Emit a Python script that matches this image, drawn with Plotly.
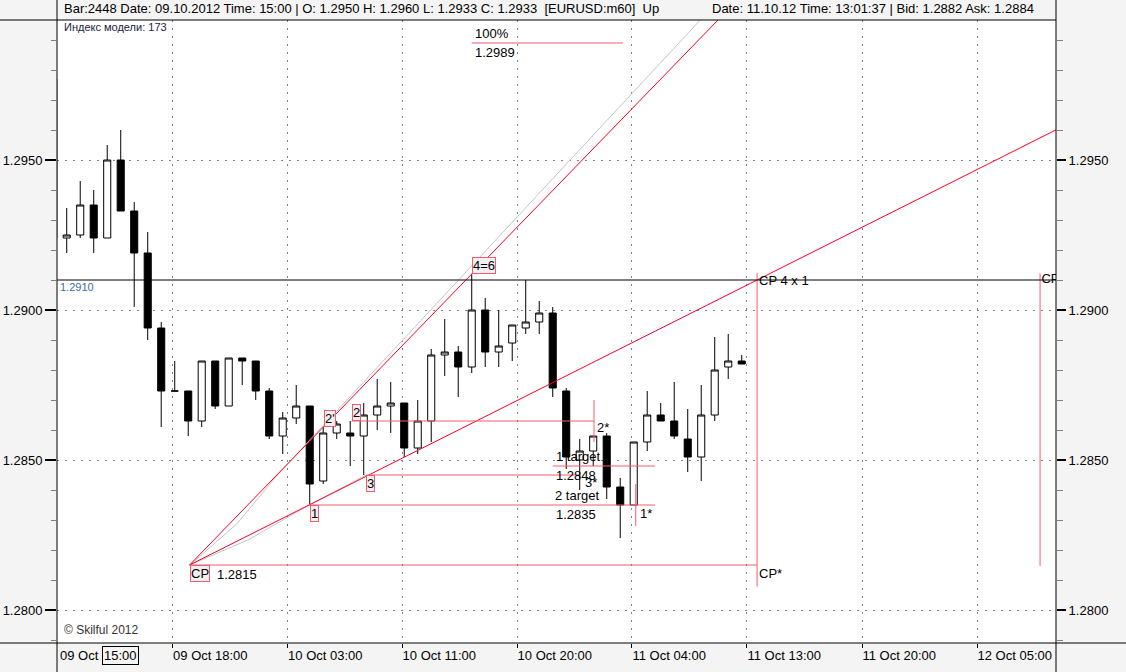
import plotly.graph_objects as go

# ---------------- data ----------------
bars = list(range(-1, 51))  # hourly bars, 0 = 09 Oct 11:00
opens = [1.2977, 1.2924, 1.2925, 1.2935, 1.2924, 1.2950, 1.2933, 1.2919, 1.2894, 1.2873,
         1.2873, 1.2863, 1.2883, 1.2868, 1.2884, 1.2883, 1.2873, 1.2858, 1.2864, 1.2868,
         1.2843, 1.2859, 1.2859, 1.2858, 1.2865, 1.2868, 1.2869, 1.2854, 1.2863, 1.2885,
         1.2886, 1.2881, 1.2900, 1.2886, 1.2889, 1.2894, 1.2896, 1.2899, 1.2873, 1.2850,
         1.2853, 1.2858, 1.2841, 1.2835, 1.2856, 1.2865, 1.2863, 1.2857, 1.2851, 1.2865,
         1.2881, 1.2883]
highs = [1.2980, 1.2934, 1.2943, 1.2940, 1.2955, 1.2960, 1.2936, 1.2926, 1.2896, 1.2883,
         1.2873, 1.2883, 1.2883, 1.2884, 1.2884, 1.2883, 1.2874, 1.2866, 1.2875, 1.2868,
         1.2861, 1.2863, 1.2863, 1.2869, 1.2877, 1.2876, 1.2869, 1.2870, 1.2887, 1.2897,
         1.2888, 1.2912, 1.2904, 1.2900, 1.2895, 1.2910, 1.2903, 1.2901, 1.2874, 1.2857,
         1.2858, 1.2859, 1.2844, 1.2856, 1.2873, 1.2869, 1.2876, 1.2867, 1.2875, 1.2891,
         1.2892, 1.2885]
lows = [1.2922, 1.2919, 1.2924, 1.2919, 1.2924, 1.2933, 1.2901, 1.2890, 1.2861, 1.2873,
        1.2858, 1.2861, 1.2867, 1.2868, 1.2875, 1.2870, 1.2857, 1.2852, 1.2862, 1.2835,
        1.2842, 1.2857, 1.2848, 1.2845, 1.2860, 1.2859, 1.2851, 1.2852, 1.2856, 1.2878,
        1.2871, 1.2879, 1.2881, 1.2881, 1.2883, 1.2892, 1.2892, 1.2871, 1.2847, 1.2840,
        1.2848, 1.2837, 1.2824, 1.2835, 1.2853, 1.2863, 1.2857, 1.2846, 1.2843, 1.2863,
        1.2877, 1.2882]
closes = [1.2924, 1.2925, 1.2935, 1.2924, 1.2950, 1.2933, 1.2919, 1.2894, 1.2873, 1.2873,
          1.2863, 1.2883, 1.2868, 1.2884, 1.2883, 1.2873, 1.2858, 1.2864, 1.2868, 1.2842,
          1.2859, 1.2862, 1.2858, 1.2865, 1.2868, 1.2869, 1.2854, 1.2863, 1.2885, 1.2886,
          1.2881, 1.2900, 1.2886, 1.2888, 1.2895, 1.2896, 1.2899, 1.2874, 1.2851, 1.2853,
          1.2858, 1.2841, 1.2835, 1.2856, 1.2865, 1.2863, 1.2858, 1.2851, 1.2865, 1.2880,
          1.2883, 1.2882]

x_tick_pos = [7.84, 16.36, 24.84, 33.36, 41.87, 50.39, 58.91, 67.43]
x_tick_text = ["09 Oct 18:00", "10 Oct 03:00", "10 Oct 11:00", "10 Oct 20:00",
               "11 Oct 04:00", "11 Oct 13:00", "11 Oct 20:00", "12 Oct 05:00"]
y_tick_vals = [1.2800, 1.2850, 1.2900, 1.2950]

# model points (bar, price)
cp = (9.1, 1.2815)
p1 = (17.95, 1.2835)
p2 = (21.1, 1.2863)
p2b = (19.08, 1.2861)
p3 = (22.2, 1.2845)
p46 = (30.0, 1.2912)
level_cp = 1.2910
target_100 = 1.2989
target_1 = 1.2848
target_2 = 1.2835
star2 = (39.06, 1.2870, 1.2856)
star1 = (42.15, 1.2842, 1.2828)
star3 = (38.25, 1.28425)
cp_right = (72.1, 1.29122, 1.28147)
gray_steep = [(9.13, 1.2815), (12.6, 1.28287), (15.8, 1.2846), (47.04, 1.29972)]
gray_shallow = [(9.1, 1.2815), (13.5, 1.28235), (17.95, 1.2835), (22.2, 1.2845)]

X_MIN, X_MAX = -0.72, 73.28
Y_MIN, Y_MAX = 1.2789, 1.299667

RED = "#ff0022"
PINK = "#f25c70"
GRAY = "#c4c4c4"
FONT = "Liberation Sans, Arial, sans-serif"

fig = go.Figure()

fig.add_trace(go.Candlestick(
    x=bars, open=opens, high=highs, low=lows, close=closes,
    increasing=dict(line=dict(color="black", width=1), fillcolor="white"),
    decreasing=dict(line=dict(color="black", width=1), fillcolor="black"),
    whiskerwidth=0, showlegend=False, hoverinfo="skip"))

def line(xs, ys, color, width=1):
    fig.add_trace(go.Scatter(x=xs, y=ys, mode="lines", line=dict(color=color, width=width),
                             showlegend=False, hoverinfo="skip"))

# gray helper curves
line([p[0] for p in gray_steep], [p[1] for p in gray_steep], GRAY)
line([p[0] for p in gray_shallow], [p[1] for p in gray_shallow], GRAY)

# shallow (1x1) line through CP and point 1
s1 = (p1[1] - cp[1]) / (p1[0] - cp[0])
line([cp[0], X_MAX], [cp[1], cp[1] + s1 * (X_MAX - cp[0])], RED)
# steep line through CP and 4=6
s4 = (p46[1] - cp[1]) / (p46[0] - cp[0])
x_top = cp[0] + (Y_MAX + 0.001 - cp[1]) / s4
line([cp[0], x_top], [cp[1], Y_MAX + 0.001], RED)

# intersection of shallow line with level
x_int = cp[0] + (level_cp - cp[1]) / s1

# pink horizontal levels
line([cp[0], x_int], [cp[1], cp[1]], PINK)
line([p1[0], 43.58], [target_2, target_2], PINK)
line([p2[0], star2[0]], [p2[1], p2[1]], PINK)
line([p3[0], 38.07], [p3[1], p3[1]], PINK)
line([36.0, 43.58], [target_1, target_1], PINK)
line([p46[0], 41.2], [target_100, target_100], PINK)
# pink verticals
line([x_int, x_int], [1.29123, 1.28078], PINK)
line([cp_right[0], cp_right[0]], [cp_right[1], cp_right[2]], PINK)
line([star2[0], star2[0]], [star2[1], star2[2]], PINK)
line([star1[0], star1[0]], [star1[1], star1[2]], PINK)

# clipped "CP" at right edge
fig.add_trace(go.Scatter(x=[cp_right[0] + 0.1], y=[level_cp], mode="text", text=["CP"],
                         textposition="middle right", cliponaxis=True,
                         textfont=dict(family=FONT, size=13, color="black"),
                         showlegend=False, hoverinfo="skip"))

# dummy trace for right axis
fig.add_trace(go.Scatter(x=[bars[0]], y=[closes[0]], yaxis="y2", mode="markers",
                         marker=dict(opacity=0), showlegend=False, hoverinfo="skip"))

shapes = []
shapes.append(dict(type="line", xref="paper", yref="y", x0=0, x1=1, y0=level_cp, y1=level_cp,
                   line=dict(color="black", width=1)))
shapes.append(dict(type="line", xref="paper", yref="paper", x0=0, x1=0, y0=-0.1, y1=1.1,
                   line=dict(color="black", width=1)))
shapes.append(dict(type="line", xref="paper", yref="paper", x0=1, x1=1, y0=-0.1, y1=1.1,
                   line=dict(color="black", width=1)))
shapes.append(dict(type="line", xref="paper", yref="paper", x0=-0.06, x1=1, y0=1, y1=1,
                   line=dict(color="black", width=1)))
shapes.append(dict(type="line", xref="paper", yref="paper", x0=-0.06, x1=1.08, y0=0, y1=0,
                   line=dict(color="black", width=1)))

ann = []
def box(text, x, y, yanchor):
    ann.append(dict(x=x, y=y, xref="x", yref="y", text=text, showarrow=False,
                    xanchor="left", yanchor=yanchor, bgcolor="#f0f0f0",
                    bordercolor=PINK, borderwidth=1, borderpad=0,
                    font=dict(family=FONT, size=13, color="black")))

def txt(text, x, y, yanchor="middle", color="black", size=13, xref="x", yref="y", xanchor="left"):
    ann.append(dict(x=x, y=y, xref=xref, yref=yref, text=text, showarrow=False,
                    xanchor=xanchor, yanchor=yanchor,
                    font=dict(family=FONT, size=size, color=color)))

box("CP", cp[0], cp[1], "top")
txt("1.2815", 10.98, 1.28117)
box("1", p1[0] + 0.1, p1[1], "top")
box("2'", p2b[0], p2b[1], "bottom")
box("2", p2[0], p2[1], "bottom")
box("3", p3[0], p3[1], "top")
box("4=6", p46[0], p46[1], "bottom")
txt("100%", 30.1, target_100, "bottom")
txt("1.2989", 30.1, target_100, "top")
txt("1 target", 36.1, target_1, "bottom")
txt("1.2848", 36.1, target_1, "top")
txt("2 target", 36.0, target_2, "bottom")
txt("1.2835", 36.1, target_2, "top")
txt("3*", star3[0], star3[1])
txt("2*", 39.1, 1.28607)
txt("1*", 42.3, 1.28323)
txt("CP*", x_int, 1.28123)
txt("CP 4 x 1", x_int, level_cp)
txt("1.2910", 0.001, 1.29077, color="#3a6ea5", size=11, xref="paper")
txt("Индекс модели: 173", 0.005, 0.9888, size=11, xref="paper", yref="paper", color="#222244")
txt("© Skilful 2012", 0.005, 0.0209, size=12, xref="paper", yref="paper", color="#333333")
txt("Bar:2448 Date: 09.10.2012 Time: 15:00 | O: 1.2950 H: 1.2960 L: 1.2933 C: 1.2933  [EURUSD:m60]  Up",
    0.005, 1.0177, xref="paper", yref="paper")
txt("Date: 11.10.12 Time: 13:01:37 | Bid: 1.2882 Ask: 1.2884", 0.6537, 1.0177,
    xref="paper", yref="paper")
txt("09 Oct", 0.001, -0.0193, xref="paper", yref="paper")
ann.append(dict(x=4, y=-0.0193, xref="x", yref="paper", text="15:00", showarrow=False,
                xanchor="center", yanchor="middle", bordercolor="black", borderwidth=1,
                borderpad=1, font=dict(family=FONT, size=13, color="black")))

grid = dict(gridcolor="#808080", griddash="2px,6px", gridwidth=1)

fig.update_layout(
    width=1126, height=672,
    margin=dict(l=57, r=70, t=20, b=29, pad=0, autoexpand=False),
    paper_bgcolor="#f4f4f4", plot_bgcolor="white",
    font=dict(family=FONT, size=13, color="black"),
    showlegend=False, boxgap=0.25,
    shapes=shapes, annotations=ann,
    xaxis=dict(range=[X_MIN, X_MAX], tickmode="array", tickvals=x_tick_pos, ticktext=x_tick_text,
               ticks="outside", ticklen=4, tickcolor="black", ticklabelposition="outside right",
               showline=False, zeroline=False, rangeslider=dict(visible=False), automargin=False,
               tickfont=dict(family=FONT, size=13), **grid),
    yaxis=dict(range=[Y_MIN, Y_MAX], tickmode="array", tickvals=y_tick_vals, tickformat=".4f",
               ticks="outside", ticklen=11, tickwidth=2, tickcolor="black", automargin=False,
               minor=dict(dtick=0.001, tick0=1.28, ticks="outside", ticklen=5, tickwidth=1,
                          tickcolor="#808080", showgrid=False),
               showline=False, zeroline=False, tickfont=dict(family=FONT, size=13), **grid),
    yaxis2=dict(range=[Y_MIN, Y_MAX], overlaying="y", side="right", tickmode="array",
                tickvals=y_tick_vals, tickformat=".4f", ticks="outside", ticklen=9, tickwidth=2,
                tickcolor="black", automargin=False,
                minor=dict(dtick=0.001, tick0=1.28, ticks="outside", ticklen=6, tickwidth=1,
                           tickcolor="#808080", showgrid=False),
                showgrid=False, zeroline=False, showline=False, tickfont=dict(family=FONT, size=13)),
)

fig.write_html("out.html", config={"displayModeBar": False},
               post_script="document.body.style.margin='0';document.body.style.overflow='hidden';")
